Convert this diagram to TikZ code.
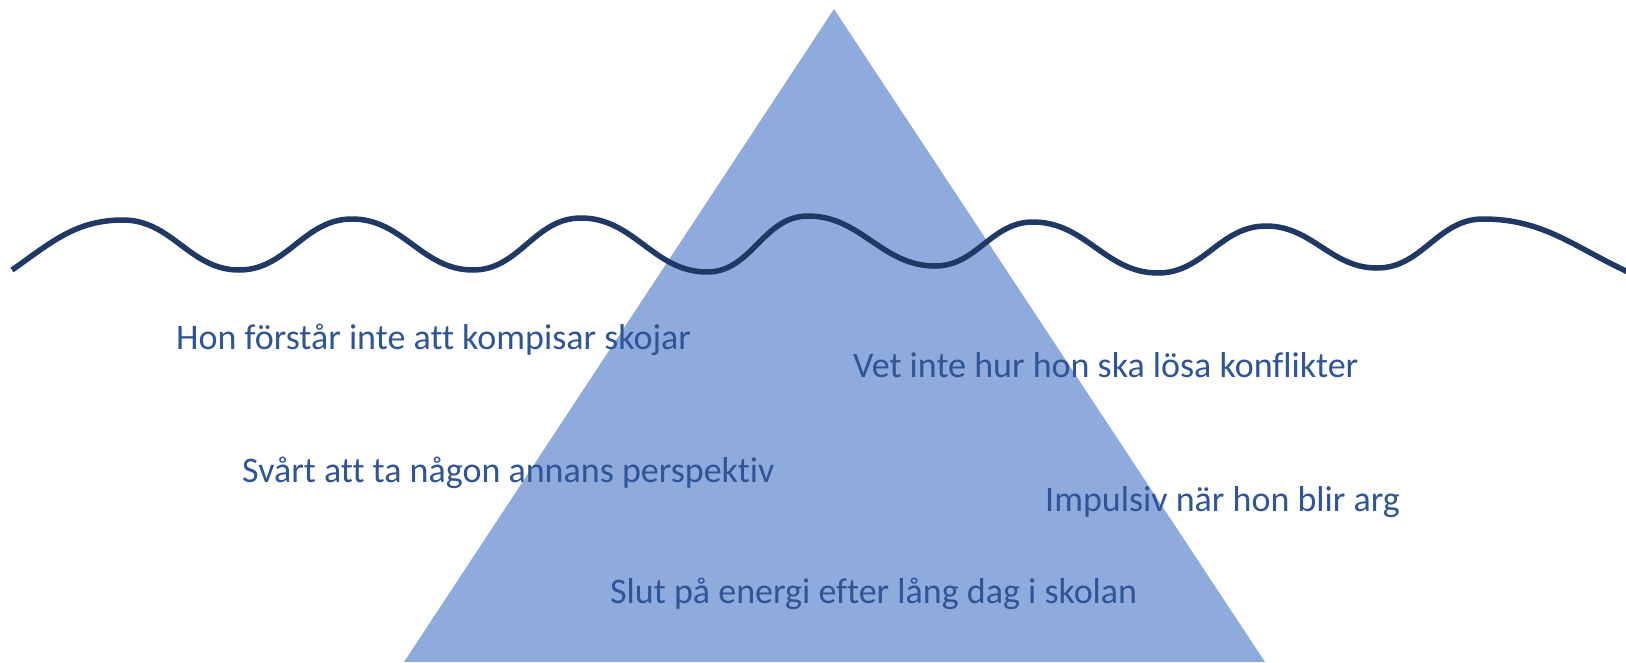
\documentclass[tikz,border=0pt]{standalone}
\usepackage{fontspec}
\setmainfont{Carlito}[Ligatures={NoCommon}]
\definecolor{berg}{RGB}{143,170,220}
\definecolor{vag}{RGB}{31,56,100}
\definecolor{txt}{RGB}{47,85,151}
\begin{document}
\begin{tikzpicture}[x=1pt,y=-1pt,
  lbl/.style={anchor=west,inner sep=0pt,text=txt,font=\fontsize{36}{42}\selectfont},
  wave/.style={draw=vag,line width=5.5pt,line cap=butt}]
\useasboundingbox (0,0) rectangle (1626,662);
\fill[white] (0,0) rectangle (1626,662);
\coordinate (apex) at (834,9);
\coordinate (bl) at (404,662);
\coordinate (br) at (1265,662);
\fill[berg] (apex) -- (bl) -- (br) -- cycle;
\coordinate (w0) at (12,270);
\coordinate (w1) at (123,220);
\coordinate (w2) at (239,270);
\coordinate (w3) at (352,219);
\coordinate (w4) at (473,270);
\coordinate (w5) at (581,218);
\coordinate (w6) at (707,272);
\coordinate (w7) at (808,216);
\coordinate (w8) at (935,266);
\coordinate (w9) at (1033,222);
\coordinate (w10) at (1158,273);
\coordinate (w11) at (1266,226);
\coordinate (w12) at (1377,268);
\coordinate (w13) at (1483,219);
\coordinate (w14) at (1628,272);
\draw[wave] (w0) to[out=35,in=180] (w1) to[out=0,in=180] (w2) to[out=0,in=180] (w3)
  to[out=0,in=180] (w4) to[out=0,in=180] (w5) to[out=0,in=180] (w6)
  to[out=0,in=180] (w7) to[out=0,in=180] (w8) to[out=0,in=180] (w9)
  to[out=0,in=180] (w10) to[out=0,in=180] (w11) to[out=0,in=180] (w12)
  to[out=0,in=180] (w13) to[out=0,in=155] (w14);
\node[lbl] (t1) at (176,340) {Hon förstår inte att kompisar skojar};
\node[lbl] (t2) at (853,365) {Vet inte hur hon ska lösa konflikter};
\node[lbl] (t3) at (242,473) {Svårt att ta någon annans perspektiv};
\node[lbl] (t4) at (1045,502) {Impulsiv när hon blir arg};
\node[lbl] (t5) at (610,594) {Slut på energi efter lång dag i skolan};
\end{tikzpicture}
\end{document}
